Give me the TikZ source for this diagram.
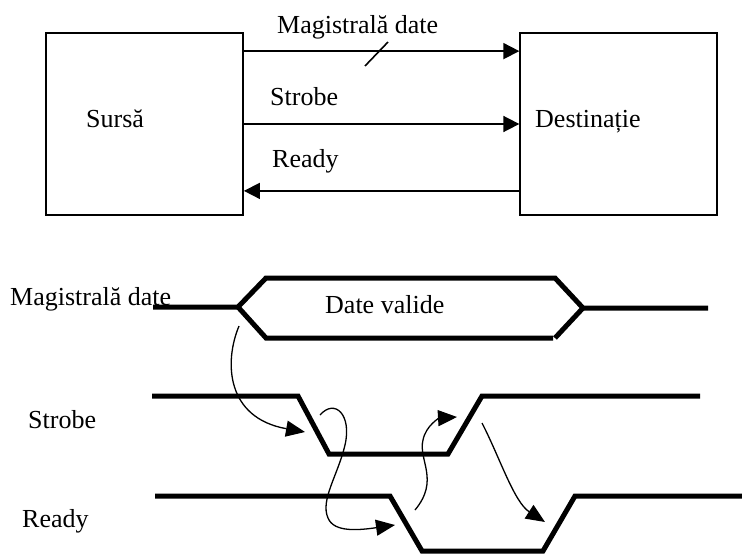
\documentclass[tikz,border=0pt]{standalone}
\usepackage{fontspec}
\setmainfont{Liberation Serif}
\usetikzlibrary{arrows.meta}
\begin{document}
\begin{tikzpicture}[x=1pt,y=-1pt,
  block/.style={draw,line width=1.8pt,minimum width=197pt,minimum height=182pt,inner sep=0pt},
  lbl/.style={inner sep=0pt,anchor=base west,font=\fontsize{26}{30}\selectfont},
  link/.style={line width=1.7pt,-{Triangle[length=16pt,width=16pt]}},
  wave/.style={line width=5pt},
  cause/.style={line width=1.3pt,-{Triangle[length=19pt,width=16pt]}}]
\useasboundingbox (0,0) rectangle (742,554);

% --- block diagram: source and destination units
\node[block] (src) at (144.5,124) {};
\node[block] (dst) at (618.75,124) {};
\node[lbl] (srcname) at (86,127) {Sursă};
\node[lbl] (dstname) at (535,127) {Destinație};

% data bus, strobe and ready lines between the units
\draw[link] ([yshift=-19pt]src.north east) -- ([yshift=-19pt]dst.north west);
\draw[line width=1.6pt] (365,66) -- (388,42);
\node[lbl] (busname) at (277,34) {Magistrală date};
\draw[link] (src.east) -- (dst.west);
\node[lbl] (strobename) at (270,105) {Strobe};
\draw[link] ([yshift=25pt]dst.south west) -- ([yshift=25pt]src.south east);
\node[lbl] (readyname) at (272,167) {Ready};

% --- timing diagram
\node[lbl] (tbus) at (10,305) {Magistrală date};
\node[lbl] (tstrobe) at (28,428) {Strobe};
\node[lbl] (tready) at (22,527) {Ready};
\node[lbl] (valid) at (325,313) {Date valide};

% data bus waveform
\coordinate (busA) at (238,307);
\coordinate (busB) at (583,308);
\draw[wave] (153,307) -- (busA) -- (266,278) -- (555,278) -- (busB) -- (708,308);
\draw[wave] (busA) -- (266,338) -- (553,338);
\draw[wave] (555,338) -- (busB);

% strobe waveform
\coordinate (stFall) at (313,425);
\coordinate (stRise) at (465,425);
\draw[wave] (152,396) -- (298,396) -- (329,454) -- (448,454) -- (482,396) -- (700,396);

% ready waveform
\coordinate (rdFall) at (406,525);
\coordinate (rdRise) at (559,525);
\draw[wave] (155,496) -- (390,496) -- (422,551) -- (543,551) -- (575,496) -- (742,496);

% handshake causality arrows
\coordinate (c1) at (239,326);
\coordinate (c2) at (320,415);
\coordinate (c3) at (415,510);
\coordinate (c4) at (482,423);
\draw[cause] (c1) .. controls (224,362) and (226,418) .. ([xshift=-8pt,yshift=-7pt]stFall);
\draw[cause] (c2) .. controls (335,398) and (352,415) .. (345,445)
  .. controls (338,475) and (320,500) .. (328,518)
  .. controls (334,533) and (360,530) .. ([xshift=-11pt]rdFall);
\draw[cause] (c3) .. controls (440,480) and (418,460) .. (423,440)
  .. controls (426,425) and (440,418) .. ([xshift=-8pt,yshift=8pt]stRise);
\draw[cause] (c4) .. controls (500,458) and (514,502) .. ([xshift=-14pt,yshift=3pt]rdRise);
\end{tikzpicture}
\end{document}
